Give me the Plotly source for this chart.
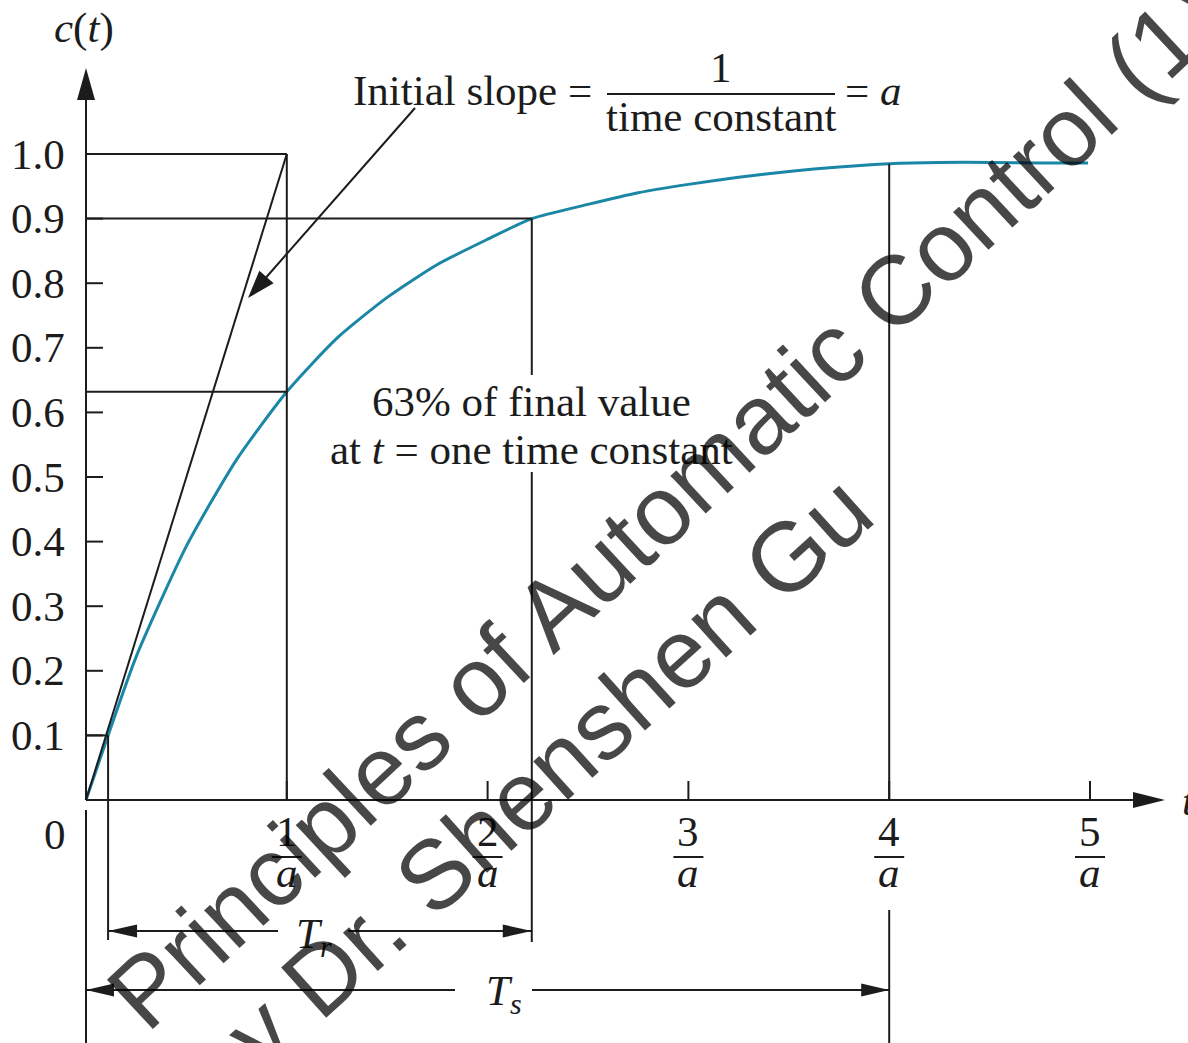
import math
import plotly.graph_objects as go

# First-order step response c(t); time in units of 1/a
t_vals = [0.0, 0.11, 0.25, 0.5, 0.75, 1.0, 1.25, 1.5, 1.75, 2.0, 2.22, 2.5, 2.75,
          3.0, 3.25, 3.5, 3.75, 4.0, 4.25, 4.5, 4.75, 4.99]
c_vals = [0.0, 0.100, 0.222, 0.393, 0.527, 0.632, 0.715, 0.778, 0.829, 0.868, 0.900,
          0.922, 0.940, 0.953, 0.964, 0.973, 0.980, 0.985, 0.987, 0.987, 0.986, 0.986]

y_ticks = [0.1, 0.2, 0.3, 0.4, 0.5, 0.6, 0.7, 0.8, 0.9, 1.0]
y_tick_labels = ["0.1", "0.2", "0.3", "0.4", "0.5", "0.6", "0.7", "0.8", "0.9", "1.0"]
x_ticks = [1, 2, 3, 4, 5]
x_tick_numerators = ["1", "2", "3", "4", "5"]

# characteristic points of the response
t_10, c_10 = 0.11, 0.1          # 10 % point (start of rise time)
t_tau, c_tau = 1.0, 0.632       # one time constant, 63 %
t_90, c_90 = 2.22, 0.9          # 90 % point (end of rise time)
t_s, c_s = 4.0, 0.985           # settling time
final_value = 1.0

# ---------------------------------------------------------------- geometry
W, H = 1188, 1043
PX_T = 200.8          # pixels per 1/a
PX_C = 646.0          # pixels per unit of c(t)
ORIG_X, ORIG_Y = 86, 800
x_range = [-ORIG_X / PX_T, (W - ORIG_X) / PX_T]
y_range = [-(H - ORIG_Y) / PX_C, ORIG_Y / PX_C]


def dt(px):
    return px / PX_T


def dc(px):
    return px / PX_C


INK = "#1c1c1c"
CURVE = "#1b87a6"
SERIF = "Liberation Serif"
FS = 43

shapes = []


def seg(x0, y0, x1, y1, w=2, color=INK):
    shapes.append(dict(type="line", xref="x", yref="y", x0=x0, y0=y0, x1=x1, y1=y1,
                       line=dict(color=color, width=w), layer="above"))


def arrowhead(t, c, angle_deg, length=30, width=15):
    """Filled triangular head with its tip at (t, c), pointing along angle_deg."""
    a = math.radians(angle_deg)
    ux, uy = math.cos(a), math.sin(a)
    bx, by = -ux * length, -uy * length
    px, py = -uy * width / 2, ux * width / 2
    path = (f"M0,0 L{bx + px:.2f},{by + py:.2f} "
            f"L{bx - px:.2f},{by - py:.2f} Z")
    shapes.append(dict(type="path", xref="x", yref="y", xsizemode="pixel",
                       ysizemode="pixel", xanchor=t, yanchor=c, path=path,
                       fillcolor=INK, line=dict(width=0), layer="above"))


# axes
y_tip = dc(ORIG_Y - 68)
x_tip = dt(1165 - ORIG_X)
seg(0, 0, 0, y_tip - dc(30))
arrowhead(0, y_tip, 90, length=32, width=18)
seg(0, 0, x_tip - dt(30), 0)
arrowhead(x_tip, 0, 0, length=32, width=16)
seg(0, -dc(10), 0, y_range[0])

for v in y_ticks:
    seg(0, v, dt(17), v)
for v in x_ticks:
    seg(v, 0, v, dc(19))

# time-constant construction
seg(0, final_value, t_tau, final_value)
seg(t_tau, 0, t_tau, final_value)
seg(0, 0, t_tau, final_value)               # initial slope line
seg(0, c_tau, t_tau, c_tau)

# rise-time construction
seg(0, c_10, t_10, c_10)
seg(t_10, c_10, t_10, -dc(140))
seg(0, c_90, t_90, c_90)
seg(t_90, c_90, t_90, dc(ORIG_Y - 375))
seg(t_90, dc(ORIG_Y - 472), t_90, -dc(142))

# settling-time construction
seg(t_s, 0, t_s, c_s)
seg(t_s, -dc(110), t_s, y_range[0])

# T_r dimension
y_tr = -dc(131)
seg(t_10, y_tr, dt(278 - ORIG_X), y_tr)
seg(dt(348 - ORIG_X), y_tr, t_90, y_tr)
arrowhead(t_10, y_tr, 180, length=29, width=13)
arrowhead(t_90, y_tr, 0, length=29, width=13)

# T_s dimension
y_ts = -dc(190)
seg(0, y_ts, dt(455 - ORIG_X), y_ts)
seg(dt(532 - ORIG_X), y_ts, t_s, y_ts)
arrowhead(0, y_ts, 180, length=28, width=13)
arrowhead(t_s, y_ts, 0, length=28, width=13)

# pointer to the initial slope
p_start = (dt(415 - ORIG_X), dc(ORIG_Y - 108))
p_tip = (dt(248 - ORIG_X), dc(ORIG_Y - 298))
ang = math.degrees(math.atan2((p_tip[1] - p_start[1]) * PX_C,
                              (p_tip[0] - p_start[0]) * PX_T))
seg(p_start[0], p_start[1],
    p_tip[0] - dt(20 * math.cos(math.radians(ang))),
    p_tip[1] - dc(20 * math.sin(math.radians(ang))))
arrowhead(p_tip[0], p_tip[1], ang, length=28, width=19)

# fraction bar of the slope formula
seg(dt(607 - ORIG_X), dc(ORIG_Y - 94), dt(835 - ORIG_X), dc(ORIG_Y - 94))

# fraction bars under the time tick labels
for v in x_ticks:
    seg(v - dt(15), -dc(57), v + dt(15), -dc(57))

# ---------------------------------------------------------------- text
annotations = []


def text(x, y, s, size=FS, xanchor="center", yanchor="middle", family=SERIF,
         color=INK, angle=0):
    annotations.append(dict(x=x, y=y, xref="x", yref="y", text=s, showarrow=False,
                            xanchor=xanchor, yanchor=yanchor, textangle=angle,
                            font=dict(family=family, size=size, color=color)))


text(-dt(2), dc(ORIG_Y - 28), "<i>c</i>(<i>t</i>)")
text(dt(1180 - ORIG_X), 0, "<i>t</i>", xanchor="left")
for v, lab in zip(y_ticks, y_tick_labels):
    text(-dt(19), v, lab, xanchor="right")
text(-dt(31), -dc(34), "0")
for v, num in zip(x_ticks, x_tick_numerators):
    text(v, -dc(31), num)
    text(v, -dc(72), "<i>a</i>")

text(dt(594 - ORIG_X), dc(ORIG_Y - 90), "Initial slope =", xanchor="right")
text(dt(721 - ORIG_X), dc(ORIG_Y - 67), "1")
text(dt(721 - ORIG_X), dc(ORIG_Y - 116), "time constant")
text(dt(843 - ORIG_X), dc(ORIG_Y - 90), "= <i>a</i>", xanchor="left")

text(dt(531 - ORIG_X), dc(ORIG_Y - 401), "63% of final value")
text(dt(531 - ORIG_X), dc(ORIG_Y - 449), "at <i>t</i> = one time constant")

text(dt(314 - ORIG_X), y_tr - dc(6), "<i>T<sub>r</sub></i>")
text(dt(504 - ORIG_X), y_ts - dc(4), "<i>T<sub>s</sub></i>")

# watermark
WM = "rgba(0,0,0,0.72)"
text(dt(665 - ORIG_X), dc(ORIG_Y - 505), "Principles of Automatic Control (1)",
     size=98, family="Liberation Sans", color=WM, angle=-43)
text(dt(528 - ORIG_X), dc(ORIG_Y - 790), "by Dr. Shenshen Gu",
     size=98, family="Liberation Sans", color=WM, angle=-42)

# ---------------------------------------------------------------- figure
fig = go.Figure()
fig.add_trace(go.Scatter(x=t_vals, y=c_vals, mode="lines", hoverinfo="skip",
                         line=dict(color=CURVE, width=3, shape="spline", smoothing=0.6)))

fig.update_layout(
    width=W, height=H,
    margin=dict(l=0, r=0, t=0, b=0),
    paper_bgcolor="white", plot_bgcolor="white",
    showlegend=False,
    xaxis=dict(range=x_range, visible=False, fixedrange=True),
    yaxis=dict(range=y_range, visible=False, fixedrange=True),
    shapes=shapes,
    annotations=annotations,
)

fig.write_html("out.html")
